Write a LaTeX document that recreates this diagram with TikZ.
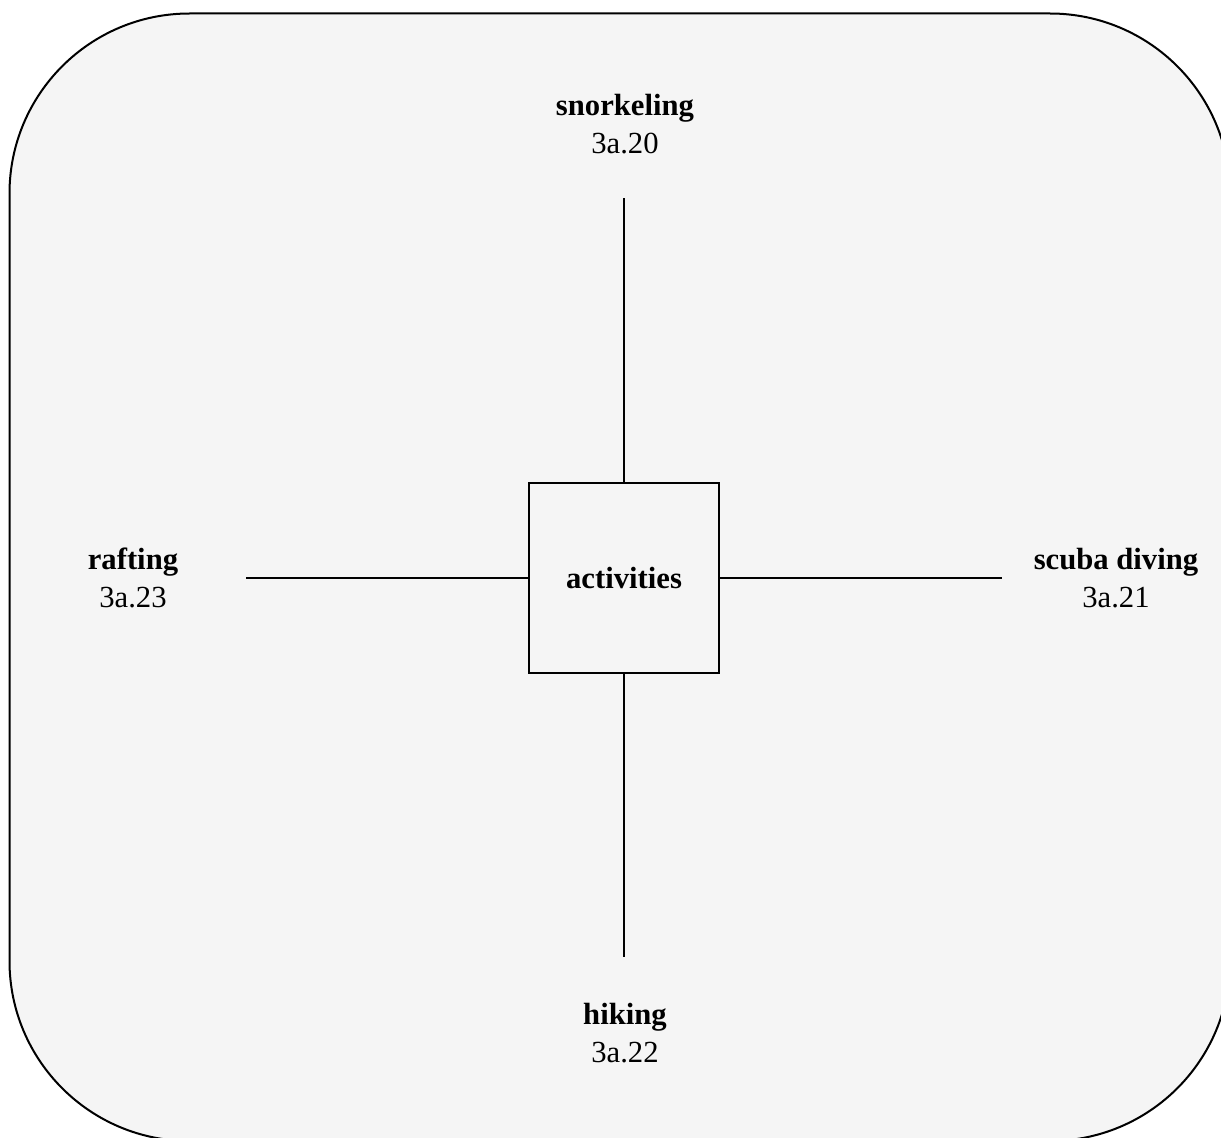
\documentclass[tikz,border=0pt]{standalone}
\usepackage{fontspec}
\setmainfont{Liberation Serif}
\usetikzlibrary{positioning}
\definecolor{panelgray}{HTML}{F5F5F5}

\begin{document}
\begin{tikzpicture}[
  x=0.75pt, y=-0.75pt,
  every node/.style={font=\fontsize{23}{28.5}\selectfont},
  hub/.style={draw, line width=1.5pt, minimum size=142.5pt, inner sep=0pt, font=\fontsize{23}{28.5}\selectfont\bfseries},
  leaf/.style={align=center, inner sep=0pt},
  spoke/.style={line width=1.5pt}
]

  \clip (0,0) rectangle (1221,1138);
  \draw[line width=1.5pt, fill=panelgray, rounded corners=135pt] (9.5,13.5) rectangle (1230,1141);

  \node[hub] (activities) at (624,578) {activities};

  \coordinate (snorkelend) at (624,198);
  \coordinate (scubaend) at (1002,578);
  \coordinate (hikingend) at (624,957);
  \coordinate (raftingend) at (246,578);

  \node[leaf] (snorkeling) at (625,124) {\textbf{snorkeling}\\3a.20};
  \node[leaf] (scuba) at (1116,578) {\textbf{scuba diving}\\3a.21};
  \node[leaf] (hiking) at (625,1033) {\textbf{hiking}\\3a.22};
  \node[leaf] (rafting) at (133,578) {\textbf{rafting}\\3a.23};

  \draw[spoke] (activities) -- (snorkelend);
  \draw[spoke] (activities) -- (scubaend);
  \draw[spoke] (activities) -- (hikingend);
  \draw[spoke] (activities) -- (raftingend);

\end{tikzpicture}
\end{document}
